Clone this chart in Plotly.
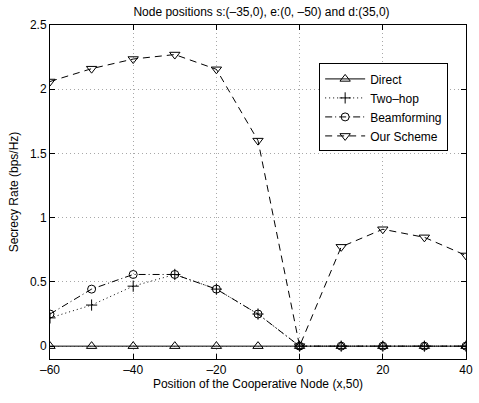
import plotly.graph_objects as go

x = [-60, -50, -40, -30, -20, -10, 0, 10, 20, 30, 40]
direct = [0, 0, 0, 0, 0, 0, 0, 0, 0, 0, 0]
two_hop = [0.22, 0.32, 0.467, 0.558, 0.444, 0.25, 0, 0, 0, 0, 0]
beamforming = [0.25, 0.444, 0.558, 0.558, 0.444, 0.25, 0, 0, 0, 0, 0]
our_scheme = [2.06, 2.16, 2.235, 2.27, 2.155, 1.6, 0, 0.773, 0.91, 0.847, 0.706]

x_ticks = [-60, -40, -20, 0, 20, 40]
y_ticks = [0, 0.5, 1, 1.5, 2, 2.5]
y_tick_labels = ["0", "0.5", "1", "1.5", "2", "2.5"]

FONT = "Liberation Sans, Arial, Helvetica, sans-serif"

fig = go.Figure()
fig.add_trace(go.Scatter(
    x=x, y=direct, name="Direct", mode="lines+markers",
    line=dict(color="black", width=1, dash="solid"),
    marker=dict(symbol="triangle-up-open", size=9, color="black", line=dict(width=1))))
fig.add_trace(go.Scatter(
    x=x, y=two_hop, name="Two\u2013hop", mode="lines+markers",
    line=dict(color="black", width=1, dash="1px,3px"),
    marker=dict(symbol="cross-thin-open", size=8, color="black", line=dict(width=1, color="black"))))
fig.add_trace(go.Scatter(
    x=x, y=beamforming, name="Beamforming", mode="lines+markers",
    line=dict(color="black", width=1, dash="7px,3px,1px,3px"),
    marker=dict(symbol="circle-open", size=8, color="black", line=dict(width=1))))
fig.add_trace(go.Scatter(
    x=x, y=our_scheme, name="Our Scheme", mode="lines+markers",
    line=dict(color="black", width=1, dash="7px,5px"),
    marker=dict(symbol="triangle-down-open", size=9, color="black", line=dict(width=1))))

axis_common = dict(
    showline=True, linecolor="black", linewidth=1, mirror="ticks",
    ticks="inside", ticklen=5, tickcolor="black",
    showgrid=True, gridcolor="#a8a8a8", gridwidth=1, griddash="1px,3px",
    zeroline=False, tickfont=dict(family=FONT, size=12, color="black"),
    ticklabeloverflow="allow",
)

fig.update_xaxes(range=[-60, 40], tickvals=x_ticks,
                 ticktext=[str(v).replace("-", "\u2013") for v in x_ticks],
                 title=dict(text="Position of the Cooperative Node (x,50)",
                            font=dict(family=FONT, size=12, color="black"), standoff=2),
                 **axis_common)
fig.update_yaxes(range=[-0.1, 2.5], tickvals=y_ticks, ticktext=y_tick_labels,
                 title=dict(text="Secrecy Rate (bps/Hz)",
                            font=dict(family=FONT, size=12, color="black"), standoff=8),
                 **axis_common)

fig.update_layout(
    width=479, height=403,
    margin=dict(l=50, r=6, t=25, b=44),
    paper_bgcolor="white", plot_bgcolor="white",
    title=dict(text="Node positions s:(\u201335,0), e:(0, \u201350) and d:(35,0)",
               x=(50 + 473) / 2 / 479, xanchor="center", y=1 - 12 / 403, yanchor="middle",
               font=dict(family=FONT, size=12, color="black")),
    legend=dict(x=0.647, y=0.885, xanchor="left", yanchor="top",
                bgcolor="white", bordercolor="black", borderwidth=1,
                font=dict(family=FONT, size=12, color="black"),
                tracegroupgap=0, itemwidth=40),
    showlegend=True,
)

fig.write_html("out.html", config={"displayModeBar": False},
               post_script="document.body.style.margin='0';document.body.style.overflow='hidden';")
